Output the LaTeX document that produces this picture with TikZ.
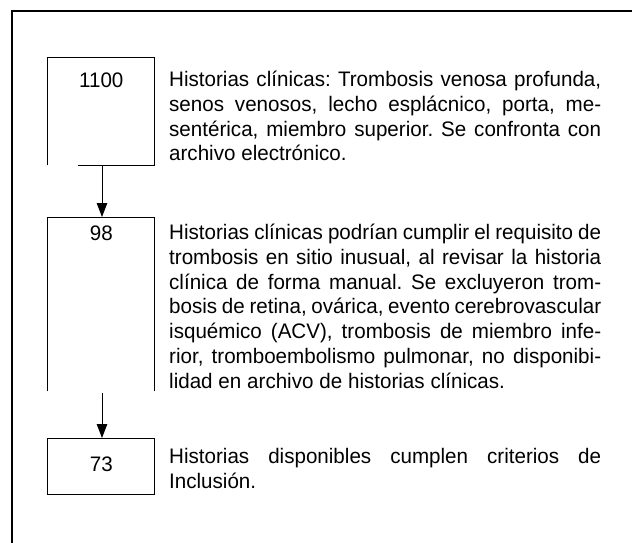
\documentclass[tikz,border=0pt]{standalone}
\usepackage{fontspec}
\setmainfont{Liberation Sans}[FakeStretch=0.98]
\usetikzlibrary{arrows.meta}
\begin{document}
\begin{tikzpicture}[x=1pt,y=-1pt,
  boxline/.style={line width=0.9pt, line cap=rect},
  frameline/.style={line width=2.3pt},
  flowarrow/.style={line width=0.9pt, -{Triangle[length=14pt,width=10.5pt]}},
  numlabel/.style={font=\fontsize{21}{24.8}\selectfont, anchor=base, inner sep=0pt},
  desc/.style={font=\fontsize{21}{24.8}\selectfont\frenchspacing, anchor=base west, inner sep=0pt,
    text width=432pt, align=justify}]
\useasboundingbox (0,0) rectangle (632,542);
\fill[white] (0,0) rectangle (632,542);
% outer frame (open on the right and bottom)
\draw[frameline] (12,545) -- (12,11) -- (635,11);
% boxes
\draw[boxline] (47,165) -- (47,57) -- (154,57) -- (154,165) -- (78,165);
\draw[boxline] (47,391) -- (47,217) -- (154,217) -- (154,391);
\draw[boxline] (47,438) rectangle (154,494);
% connector ends
\coordinate (b1bot) at (102,165);
\coordinate (b2top) at (102,217);
\coordinate (b2bot) at (102,393);
\coordinate (b3top) at (102,438);
\draw[flowarrow] (b1bot) -- (b2top);
\draw[flowarrow] (b2bot) -- (b3top);
% numbers
\node[numlabel] (n1) at (101.3,87) {1100};
\node[numlabel] (n2) at (101.3,240) {98};
\node[numlabel] (n3) at (101.3,471) {73};
% descriptions
\node[desc] (t1) at (169,86.5) {\hyphenpenalty=10000\spaceskip=0.278em plus 0.4em minus 0.13em
Historias clínicas: Trombosis venosa profunda,\linebreak
senos venosos, lecho esplácnico, porta, me-\linebreak
sentérica, miembro superior. Se confronta con\linebreak
archivo electrónico.};
\node[desc] (t2) at (169,239.5) {\hyphenpenalty=10000\spaceskip=0.278em plus 0.4em minus 0.13em
Historias clínicas podrían cumplir el requisito de\linebreak
trombosis en sitio inusual, al revisar la historia\linebreak
clínica de forma manual. Se excluyeron trom-\linebreak
bosis de retina, ovárica, evento cerebrovascular\linebreak
isquémico (ACV), trombosis de miembro infe-\linebreak
rior, tromboembolismo pulmonar, no disponibi-\linebreak
lidad en archivo de historias clínicas.};
\node[desc] (t3) at (169,463.5) {\hyphenpenalty=10000\spaceskip=0.278em plus 0.4em minus 0.13em
Historias disponibles cumplen criterios de\linebreak
Inclusión.};
\end{tikzpicture}
\end{document}
